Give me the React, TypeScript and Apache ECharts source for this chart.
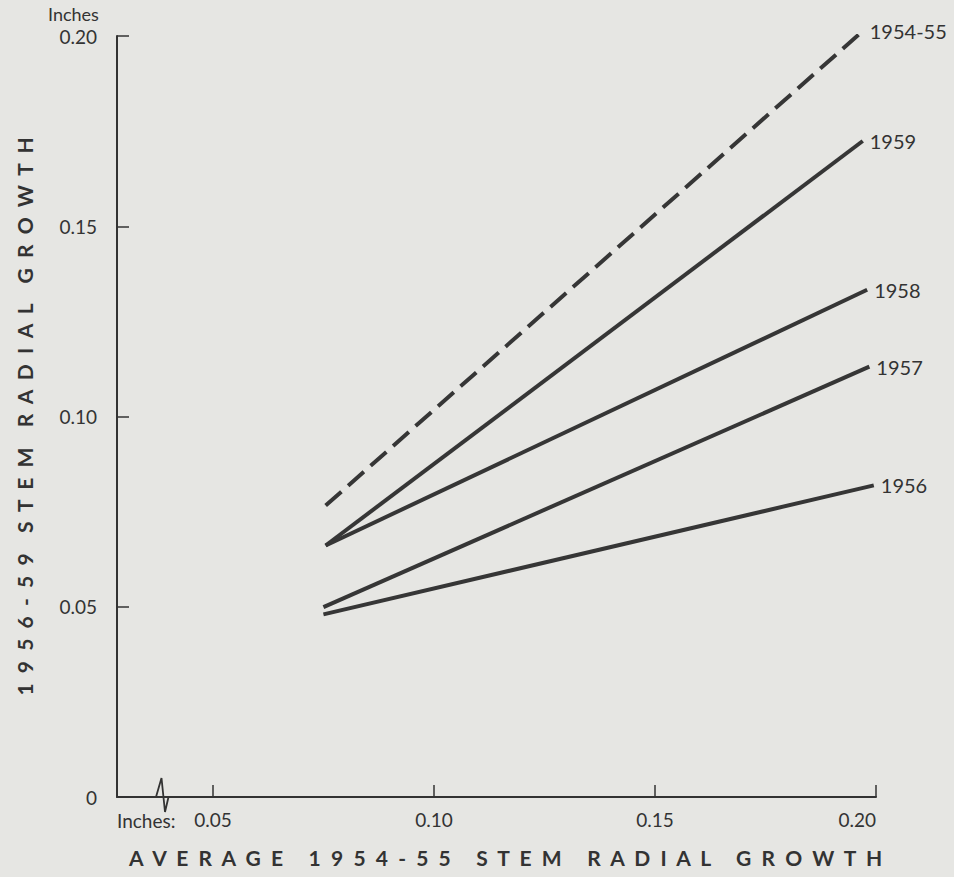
import React, { useEffect, useRef } from "react";
import * as echarts from "echarts";

const seriesNames = ["1954-55", "1959", "1958", "1957", "1956"];
const startX = [0.0755, 0.0755, 0.0755, 0.075, 0.075];
const endX = [0.197, 0.197, 0.198, 0.1985, 0.1995];
const startY = [0.0766, 0.0661, 0.0661, 0.0499, 0.048];
const endY = [0.2013, 0.1724, 0.1333, 0.1131, 0.0819];
const dashed = [true, false, false, false, false];
const xTicks = [0.05, 0.1, 0.15, 0.2];
const yTicks = [0, 0.05, 0.1, 0.15, 0.2];

const FONT = "Lato, 'Noto Sans', sans-serif";
const INK = "#333333";
const LINE = "#363636";

const spaced = (s: string, wordGap: number) =>
  s
    .split(" ")
    .map((w) => w.split("").join("  "))
    .join(" ".repeat(wordGap));

export default function App() {
  const ref = useRef<HTMLDivElement>(null);
  useEffect(() => {
    if (!ref.current) return;
    const chart = echarts.init(ref.current, null, { renderer: "svg" });
    const series = seriesNames.map((name, i) => ({
      name,
      type: "line",
      symbol: "none",
      data: [
        [startX[i], startY[i]],
        [endX[i], endY[i]],
      ],
      lineStyle: {
        color: LINE,
        width: 4,
        type: dashed[i] ? [21, 9] : "solid",
        cap: "butt",
      },
      endLabel: {
        show: true,
        formatter: "{a}",
        color: INK,
        fontSize: 20,
        fontFamily: FONT,
        distance: 7,
      },
      silent: true,
    }));
    chart.setOption({
      animation: false,
      backgroundColor: "#e6e6e3",
      grid: { left: 117, right: 78, top: 36, bottom: 80, containLabel: false },
      xAxis: {
        type: "value",
        min: 0.0283,
        max: 0.2,
        name: spaced("AVERAGE 1954-55 STEM RADIAL GROWTH", 5),
        nameLocation: "middle",
        nameGap: 50,
        nameTextStyle: {
          color: INK,
          fontSize: 21,
          fontWeight: "bold",
          fontFamily: FONT,
          padding: [0, 0, 0, 18],
        },
        axisLine: { show: true, lineStyle: { color: INK, width: 2 } },
        axisTick: {
          show: true,
          inside: true,
          length: 12,
          customValues: xTicks,
          lineStyle: { color: INK, width: 1.5 },
        },
        axisLabel: {
          customValues: xTicks,
          formatter: (v: number) => v.toFixed(2),
          color: INK,
          fontSize: 19,
          fontFamily: FONT,
          margin: 13,
          alignMaxLabel: "right",
        },
        splitLine: { show: false },
      },
      yAxis: {
        type: "value",
        min: 0,
        max: 0.2,
        interval: 0.05,
        name: spaced("1956-59 STEM RADIAL GROWTH", 4),
        nameLocation: "middle",
        nameRotate: 90,
        nameGap: 82,
        nameTextStyle: { color: INK, fontSize: 21, fontWeight: "bold", fontFamily: FONT },
        axisLine: { show: true, lineStyle: { color: INK, width: 2 } },
        axisTick: {
          show: true,
          inside: true,
          length: 12,
          lineStyle: { color: INK, width: 1.5 },
        },
        axisLabel: {
          customValues: yTicks,
          formatter: (v: number) => (v === 0 ? "0" : v.toFixed(2)),
          color: INK,
          fontSize: 19,
          fontFamily: FONT,
          margin: 20,
        },
        splitLine: { show: false },
      },
      graphic: [
        {
          type: "text",
          left: 48,
          top: 5,
          style: { text: "Inches", fill: INK, fontSize: 18, fontFamily: FONT },
        },
        {
          type: "text",
          left: 117,
          top: 811,
          style: { text: "Inches:", fill: INK, fontSize: 19, fontFamily: FONT },
        },
        {
          type: "polyline",
          shape: {
            points: [
              [156, 797],
              [161.5, 778],
              [165, 812],
              [168.5, 797],
            ],
          },
          style: { stroke: INK, lineWidth: 1.8, fill: "none" },
        },
      ],
      series,
    });
    return () => chart.dispose();
  }, []);
  return (
    <div
      ref={ref}
      style={{ position: "fixed", left: 0, top: 0, width: 954, height: 877 }}
    />
  );
}
